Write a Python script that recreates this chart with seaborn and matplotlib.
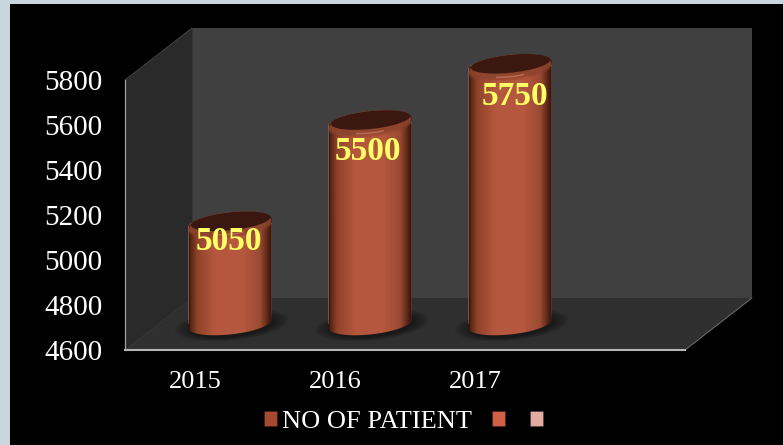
import numpy as np
import pandas as pd
import matplotlib
matplotlib.use("Agg")
import matplotlib.pyplot as plt
import seaborn as sns
from matplotlib.colors import LinearSegmentedColormap
from matplotlib.patches import Ellipse, PathPatch, Polygon, Patch
from matplotlib.path import Path

years = ["2015", "2016", "2017"]
patients = [5050, 5500, 5750]
blank_category = " "
y_ticks = [4600, 4800, 5000, 5200, 5400, 5600, 5800]
legend_labels = ["NO OF PATIENT", "", ""]
legend_colors = ["#a5492f", "#cf5f45", "#e3aca3"]

W, H = 783, 445
FRONT = (125, 685, 350, 80)   # left, right, bottom, top of the front plane (px)
DEPTH = (67, -52)             # full depth offset of the back wall (px)
MID = (35, -26)               # where the columns stand inside the box (px)
LABEL_SHIFT = [(-1, 19), (-2, 30), (5, 31)]  # label offset from the column's top (px)

sns.set_theme(style="white")
plt.rcParams["font.family"] = ["Liberation Serif", "DejaVu Serif"]
fig = plt.figure(figsize=(W / 100, H / 100), dpi=100, facecolor="#c9d6dd")


def px_axes(left, right, bottom, top, z):
    return fig.add_axes([left / W, 1 - bottom / H, (right - left) / W, (bottom - top) / H],
                        facecolor="none", zorder=z)


# backdrop in pixel coordinates
back = px_axes(0, W, H, 0, 0)
back.set_xlim(0, W); back.set_ylim(H, 0); back.axis("off")
l, r, b, t = FRONT
dx, dy = DEPTH
back.add_patch(Polygon([(10, 4), (W, 4), (W, H), (10, H)], fc="black", ec="none"))
back.add_patch(Polygon([(l + dx, t + dy), (r + dx, t + dy), (r + dx, b + dy), (l + dx, b + dy)],
                       fc="#404040", ec="none"))
back.add_patch(Polygon([(l, t), (l + dx, t + dy), (l + dx, b + dy), (l, b)], fc="#2a2a2a", ec="none"))
back.add_patch(Polygon([(l, b), (r, b), (r + dx, b + dy), (l + dx, b + dy)], fc="#2f2f2f", ec="none"))
back.plot([l, l + dx], [t, t + dy], color="#4a4a4a", lw=0.6)
back.plot([r, r + dx], [b, b + dy], color="#707070", lw=0.7)
back.plot([l, l + dx], [b, b + dy], color="#3c3c3c", lw=0.5)
back.plot([l + dx] * 2, [t + dy, b + dy], color="#343434", lw=0.5)

# value axes on the front plane
main = px_axes(l, r, b, t, 1)
main.set_xlim(-0.5, 3.5)
main.set_ylim(y_ticks[0], y_ticks[-1])
main.set_xticks(range(4), years + [""])
main.set_yticks(y_ticks)
main.tick_params(axis="y", length=0, pad=16, labelsize=21, labelcolor="white")
main.tick_params(axis="x", length=0, pad=15, labelsize=19, labelcolor="white")
for side in ("top", "right"):
    main.spines[side].set_visible(False)
main.spines["left"].set_color("#a0a0a0"); main.spines["left"].set_linewidth(0.9)
main.spines["bottom"].set_color("#b5b5b5"); main.spines["bottom"].set_linewidth(1.5)

# seaborn bars, at mid depth in the box
bars_ax = px_axes(l + MID[0], r + MID[0], b + MID[1], t + MID[1], 2)
df = pd.DataFrame({"year": years, "patients": patients})
sns.barplot(data=df, x="year", y="patients", order=years + [blank_category], width=0.593,
            color="#b5573e", saturation=1, ax=bars_ax)
bars_ax.set_xlim(-0.5, 3.5)
bars_ax.set_ylim(y_ticks[0], y_ticks[-1])
bars_ax.axis("off")

# cylinder shading, worked out from the drawn bars
over = px_axes(0, W, H, 0, 3)
over.set_xlim(0, W); over.set_ylim(H, 0); over.axis("off")
cmap = LinearSegmentedColormap.from_list(
    "cyl", [(0, "#2a0e06"), (0.035, "#5c2716"), (0.11, "#8f4329"), (0.32, "#b5573e"),
            (0.66, "#b5573e"), (0.86, "#9a4a33"), (0.95, "#5a2615"), (1, "#2c120a")])
TILT = -0.1
B = 10.5


def to_px(ax, x, y):
    p = ax.transData.transform((x, y))
    return p[0], H - p[1]


def ell(xc, yc, a, b_, t0=0, t1=2 * np.pi, n=80):
    th = np.linspace(t0, t1, n)
    x = xc + a * np.cos(th)
    return np.c_[x, yc + b_ * np.sin(th) + TILT * (x - xc)]


fig.canvas.draw()
bars = [p for p in bars_ax.patches if np.isfinite(p.get_height()) and p.get_height() > 0]
for bar, value, (sx, sy) in zip(bars, patients, LABEL_SHIFT):
    x0 = bar.get_x()
    x1 = x0 + bar.get_width()
    xa, yt = to_px(bars_ax, x0, value)
    xb, yb = to_px(bars_ax, x1, y_ticks[0])
    xc, a = (xa + xb) / 2, (xb - xa) / 2

    # soft floor shadow
    for k in np.linspace(1.38, 1.0, 10):
        over.add_patch(Ellipse((xc + 2, yb + 1), 2 * a * k, 2 * B * k + 2, angle=-5.7,
                               fc="black", ec="none", alpha=0.05))

    # body silhouette: lower half of base, upper half of top
    outline = np.vstack([ell(xc, yb, a, B, 0, np.pi), ell(xc, yt, a, B, np.pi, 2 * np.pi)])
    clip = PathPatch(Path(np.vstack([outline, outline[0]])), fc="none", ec="none")
    over.add_patch(clip)
    bar.set_clip_path(clip.get_path(), over.transData)
    grad = np.linspace(0, 1, 256)[None, :]
    im = over.imshow(grad, extent=(xc - a, xc + a, yb + 15, yt - 15), cmap=cmap,
                     aspect="auto", zorder=2, vmin=0, vmax=1)
    im.set_clip_path(clip)

    # rim below the cap, its highlight and the dark cap itself
    for shift, alpha in ((5, 0.3), (3.5, 0.45), (2, 0.7)):
        rim = Polygon(ell(xc, yt + shift, a, B), fc="#8c432c", ec="none", zorder=3, alpha=alpha)
        over.add_patch(rim)
        rim.set_clip_path(clip)
    over.add_patch(Polygon(ell(xc + 0.5, yt - 1.5, a - 2, B - 1.5), fc="#3a1810", ec="none", zorder=4))
    arc = ell(xc, yt + 2, a - 10, B - 1, np.radians(65), np.radians(115), 20)
    over.plot(arc[:, 0], arc[:, 1], color="#f0a090", lw=1.0, alpha=0.45, zorder=4, solid_capstyle="round")

    over.text(xc + sx, yt + sy, str(value), ha="center", va="center", color="#ffff66",
              fontsize=24, fontweight="bold", zorder=5)
over.set_xlim(0, W); over.set_ylim(H, 0)

handles = [Patch(fc=c, ec="#00000040", lw=0.5) for c in legend_colors]
leg = fig.legend(handles, legend_labels, ncol=3, loc="center", bbox_to_anchor=(406 / W, 1 - 422 / H),
                 frameon=False, fontsize=19, labelcolor="white", handlelength=0.52, handleheight=0.52,
                 handletextpad=0.2, columnspacing=0.72)
leg.set_zorder(5)

fig.savefig("out.png", dpi=100, facecolor=fig.get_facecolor())
